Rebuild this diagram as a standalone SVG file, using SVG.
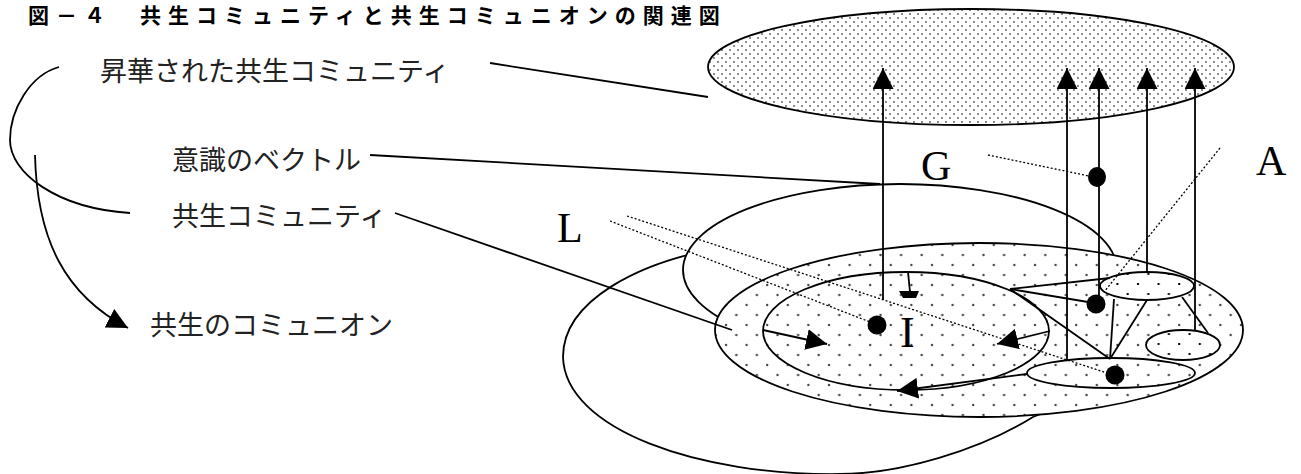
<svg xmlns="http://www.w3.org/2000/svg" width="1301" height="474" viewBox="0 0 1301 474">
<defs>
  <pattern id="dense" width="8" height="8" patternUnits="userSpaceOnUse">
    <rect width="8" height="8" fill="#fff"/>
    <circle cx="2" cy="2" r="0.9" fill="#555"/>
    <circle cx="6" cy="6" r="0.9" fill="#555"/>
  </pattern>
  <pattern id="sparse" width="20.6" height="20" patternUnits="userSpaceOnUse">
    <rect width="20.6" height="20" fill="#fff"/>
    <circle cx="5" cy="5" r="1.2" fill="#444"/>
    <circle cx="15.3" cy="15" r="1.2" fill="#444"/>
  </pattern>
  <pattern id="squares" width="20.6" height="20" patternUnits="userSpaceOnUse">
    <rect width="20.6" height="20" fill="#fff"/>
    <rect x="4" y="3" width="2" height="2" fill="#000"/>
    <rect x="14.3" y="13" width="2" height="2" fill="#000"/>
  </pattern>
  <marker id="ah" markerUnits="userSpaceOnUse" viewBox="0 0 21 21" markerWidth="21" markerHeight="21" refX="21" refY="10.5" orient="auto">
    <path d="M0,0 L21,10.5 L0,21 z" fill="#000"/>
  </marker>
</defs>
<style>
  .edge{fill:none;stroke:#000;stroke-width:1.8}
  .dotted{fill:none;stroke:#000;stroke-width:1.3;stroke-dasharray:2 2}
  .shape{stroke:#000;stroke-width:1.8}
  .jp{font-family:"Noto Sans CJK JP",sans-serif;font-size:27px;fill:#222}
  .lat{font-family:"Liberation Serif",serif;font-size:42px;fill:#000}
  .blk{fill:#000}
</style>
<rect width="1301" height="474" fill="#fff"/>

<g id="title">
  <text x="28" y="23" style="font-family:'Noto Sans CJK JP',sans-serif;font-size:21px;font-weight:bold;letter-spacing:7px" fill="#000">図－４　共生コミュニティと共生コミュニオンの関連図</text>
</g>

<g id="sublimated-community">
  <ellipse cx="971" cy="67" rx="263" ry="58" fill="url(#dense)" class="shape"/>
</g>

<g id="communion-outer">
  <path d="M563,357 C563,300 640,262 720,248 C800,235 1000,240 1080,320 C1110,360 1080,400 1033,417 C980,450 900,474 840,474 C700,476 565,430 563,357 Z" fill="#fff" class="shape"/>
</g>

<g id="consciousness-plane">
  <ellipse cx="900" cy="270" rx="217" ry="86" fill="#fff" class="shape"/>
</g>

<g id="symbiotic-community">
  <ellipse cx="979" cy="330" rx="264" ry="87" fill="url(#sparse)" class="shape"/>
</g>

<g id="inner-I">
  <ellipse cx="906" cy="331" rx="143" ry="59" fill="url(#sparse)" class="shape"/>
</g>

<g id="sub-E3">
  <ellipse cx="1111" cy="373" rx="84" ry="15" fill="url(#sparse)" class="shape"/>
</g>
<g id="sub-E1">
  <ellipse cx="1147" cy="286" rx="47" ry="14" fill="url(#squares)" class="shape"/>
</g>
<g id="sub-E2">
  <ellipse cx="1183" cy="345" rx="37" ry="15" fill="url(#squares)" class="shape"/>
</g>

<g id="connectors">
  <path class="edge" d="M490,63 L708,97"/>
  <path class="edge" d="M370,155 L880,184"/>
  <path class="edge" d="M395,213 L732,330"/>
  <path class="edge" d="M59,67 C30,75 10,110 10,140 C10,172 55,208 130,213"/>
  <path class="edge" d="M35,155 C37,240 65,295 128,328" marker-end="url(#ah)"/>

  <path class="edge" d="M883,300 L883,68" marker-end="url(#ah)"/>
  <path class="edge" d="M1067,360 L1067,68" marker-end="url(#ah)"/>
  <path class="edge" d="M1099,296 L1099,68" marker-end="url(#ah)"/>
  <path class="edge" d="M1147,272 L1147,68" marker-end="url(#ah)"/>
  <path class="edge" d="M1195,331 L1195,68" marker-end="url(#ah)"/>

  <path class="edge" d="M1010,289 L1110,278"/>
  <path class="edge" d="M1010,289 L1088,302"/>
  <path class="edge" d="M1010,289 L1110,359"/>
  <path class="edge" d="M1110,359 L1114,299"/>
  <path class="edge" d="M1110,359 L1147,300"/>
  <path class="edge" d="M1182,297 L1208,333"/>

  <path class="edge" d="M763,330 L827,344" marker-end="url(#ah)"/>
  <path class="edge" d="M1050,331 L997,344" marker-end="url(#ah)"/>
  <path class="edge" d="M1027,374 L897,391" marker-end="url(#ah)"/>
  <path class="edge" d="M908,272 L910,292"/>
  <polygon class="blk" points="899,291 919,291 916,298 903,298"/>

  <path class="dotted" d="M610,221 L870,322"/>
  <path class="dotted" d="M627,216 L1110,374"/>
  <path class="dotted" d="M988,155 L1089,176"/>
  <path class="dotted" d="M1220,148 L1104,292"/>

  <ellipse class="blk" cx="1097" cy="177" rx="9" ry="10"/>
  <circle class="blk" cx="1096" cy="304" r="9.5"/>
  <circle class="blk" cx="877" cy="325" r="9.5"/>
  <circle class="blk" cx="1115" cy="375" r="9.5"/>
</g>

<g id="labels">
  <text class="jp" x="100" y="81">昇華された共生コミュニティ</text>
  <text class="jp" x="172" y="170">意識のベクトル</text>
  <text class="jp" x="172" y="226">共生コミュニティ</text>
  <text class="jp" x="150" y="335">共生のコミュニオン</text>
  <text class="lat" x="557" y="242">L</text>
  <text class="lat" x="921" y="180">G</text>
  <text class="lat" x="1256" y="175">A</text>
  <text class="lat" x="900" y="347" style="font-size:44px">I</text>
</g>
</svg>
